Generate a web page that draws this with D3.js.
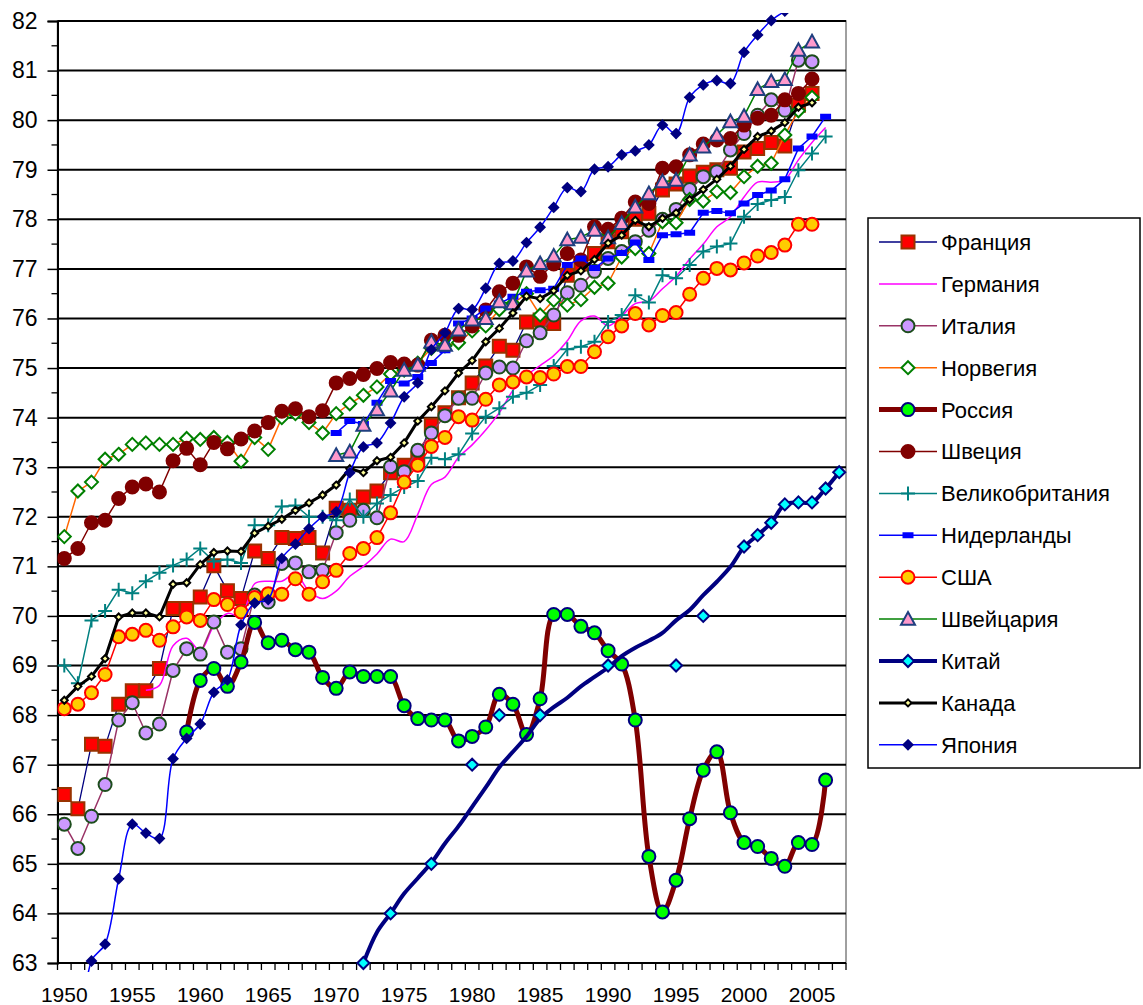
<!DOCTYPE html>
<html>
<head>
<meta charset="utf-8">
<script src="https://cdn.jsdelivr.net/npm/d3@7"></script>
<style>
  body { margin: 0; background: #fff; }
  svg { display: block; }
  text { font-family: Arial, "Liberation Sans", sans-serif; fill: #000; }
</style>
</head>
<body>
<div id="chart"></div>
<script>
// years on the category axis
const firstYear = 1950;
const lastYear = 2007;
const xTickYears = [1950, 1955, 1960, 1965, 1970, 1975, 1980, 1985, 1990, 1995, 2000, 2005];
const yTickValues = [63, 64, 65, 66, 67, 68, 69, 70, 71, 72, 73, 74, 75, 76, 77, 78, 79, 80, 81, 82];

// life expectancy, each series starts at its own year
const franceStart = 1950;
const france = [66.40, 66.11, 67.41, 67.37, 68.22, 68.49, 68.49, 68.94, 70.15, 70.15,
  70.38, 71.01, 70.51, 70.35, 71.31, 71.16, 71.58, 71.56, 71.58, 71.27,
  72.17, 72.13, 72.40, 72.52, 72.89, 73.04, 73.18, 73.85, 74.10, 74.40,
  74.70, 75.04, 75.44, 75.36, 75.93, 75.97, 75.90, 76.87, 77.10, 77.31,
  77.55, 77.75, 78.00, 78.12, 78.59, 78.71, 78.87, 78.95, 79.00, 79.03,
  79.36, 79.43, 79.55, 79.48, 80.30, 80.54];

const germanyStart = 1956;
const germany = [68.50, 68.60, 69.40, 69.55,
  69.30, 69.80, 70.05, 70.00, 70.65, 70.70, 70.70, 70.85, 70.50, 70.35,
  70.50, 70.80, 71.00, 71.25, 71.55, 71.50, 72.05, 72.65, 72.80, 73.20,
  73.45, 73.75, 74.10, 74.55, 74.85, 75.05, 75.25, 75.55, 75.95, 76.05,
  75.85, 76.05, 76.30, 76.35, 76.60, 76.85, 77.20, 77.50, 77.85, 78.05,
  78.45, 78.75, 78.75, 78.80, 79.20, 79.55, 79.85];

const italyStart = 1950;
const italy = [65.80, 65.31, 65.96, 66.60, 67.90, 68.25, 67.64, 67.82, 68.90, 69.34,
  69.23, 69.88, 69.27, 69.34, 70.42, 70.28, 71.06, 71.07, 70.89, 70.92,
  71.68, 71.93, 72.13, 71.98, 73.01, 72.91, 73.34, 73.69, 74.04, 74.39,
  74.39, 74.90, 75.02, 75.00, 75.55, 75.71, 76.07, 76.52, 76.67, 76.95,
  77.21, 77.35, 77.55, 77.78, 78.00, 78.20, 78.60, 78.86, 78.96, 79.40,
  79.73, 80.10, 80.41, 80.20, 81.21, 81.18];

const norwayStart = 1950;
const norway = [71.60, 72.52, 72.70, 73.16, 73.26, 73.46, 73.49, 73.46, 73.46, 73.58,
  73.56, 73.60, 73.50, 73.12, 73.60, 73.36, 74.00, 74.08, 73.90, 73.69,
  74.08, 74.28, 74.45, 74.62, 74.88, 74.96, 75.10, 75.40, 75.45, 75.51,
  75.75, 75.85, 76.18, 76.30, 76.50, 76.07, 76.37, 76.27, 76.38, 76.63,
  76.71, 77.24, 77.41, 77.31, 77.95, 77.93, 78.40, 78.37, 78.56, 78.54,
  78.86, 79.07, 79.13, 79.70, 80.19, 80.46];

const russiaStart = 1959;
const russia = [67.66,
  68.70, 68.94, 68.58, 69.07, 69.87, 69.46, 69.51, 69.32, 69.27, 68.76,
  68.54, 68.87, 68.78, 68.78, 68.78, 68.19, 67.93, 67.90, 67.90, 67.48,
  67.57, 67.76, 68.42, 68.22, 67.61, 68.33, 70.03, 70.03, 69.79, 69.66,
  69.30, 69.03, 67.90, 65.15, 64.03, 64.67, 65.91, 66.89, 67.26, 66.03,
  65.43, 65.35, 65.11, 64.95, 65.43, 65.39, 66.69];

const swedenStart = 1950;
const sweden = [71.16, 71.36, 71.88, 71.93, 72.37, 72.60, 72.66, 72.50, 73.13, 73.38,
  73.05, 73.50, 73.37, 73.57, 73.73, 73.90, 74.13, 74.18, 74.02, 74.14,
  74.70, 74.79, 74.87, 74.99, 75.11, 75.08, 75.06, 75.56, 75.66, 75.66,
  75.85, 76.17, 76.54, 76.71, 77.04, 76.85, 77.10, 77.31, 77.18, 77.85,
  77.80, 78.02, 78.35, 78.32, 79.03, 79.06, 79.30, 79.52, 79.60, 79.63,
  79.90, 80.04, 80.10, 80.41, 80.54, 80.83];

const ukStart = 1950;
const uk = [69.00, 68.64, 69.91, 70.10, 70.53, 70.46, 70.70, 70.87, 71.02, 71.14,
  71.36, 71.10, 71.14, 71.07, 71.83, 71.83, 72.21, 72.23, 72.00, 72.00,
  71.93, 72.35, 72.00, 72.27, 72.44, 72.60, 72.72, 73.19, 73.16, 73.26,
  73.68, 74.02, 74.19, 74.42, 74.50, 74.66, 75.04, 75.38, 75.43, 75.53,
  75.93, 76.07, 76.47, 76.32, 76.87, 76.81, 77.08, 77.35, 77.45, 77.51,
  78.05, 78.31, 78.39, 78.45, 78.99, 79.33, 79.67];

const netherlandsStart = 1970;
const netherlands = [73.69, 73.93, 73.87, 74.30, 74.74, 74.69, 74.82, 75.10, 75.36, 75.90,
  76.00, 76.20, 76.30, 76.44, 76.54, 76.57, 76.60, 77.08, 77.21, 77.02,
  77.21, 77.32, 77.53, 77.18, 77.68, 77.70, 77.73, 78.13, 78.17, 78.12,
  78.32, 78.49, 78.58, 78.81, 79.43, 79.67, 80.07];

const usaStart = 1950;
const usa = [68.13, 68.22, 68.45, 68.82, 69.58, 69.63, 69.71, 69.51, 69.78, 69.98,
  69.91, 70.33, 70.23, 70.08, 70.37, 70.45, 70.44, 70.75, 70.44, 70.69,
  70.92, 71.26, 71.36, 71.58, 72.08, 72.70, 73.04, 73.42, 73.60, 74.02,
  73.95, 74.37, 74.66, 74.72, 74.82, 74.81, 74.88, 75.03, 75.03, 75.33,
  75.63, 75.85, 76.10, 75.87, 76.06, 76.12, 76.49, 76.81, 77.01, 76.98,
  77.12, 77.26, 77.33, 77.48, 77.90, 77.90];

const switzerlandStart = 1970;
const switzerland = [73.24, 73.31, 73.85, 74.16, 74.54, 74.96, 75.06, 75.53, 75.46, 75.77,
  75.97, 76.00, 76.34, 76.30, 76.96, 77.11, 77.26, 77.59, 77.64, 77.78,
  77.63, 77.92, 78.25, 78.52, 78.76, 78.79, 79.30, 79.46, 79.70, 79.97,
  80.08, 80.62, 80.78, 80.82, 81.41, 81.58];

// China: smoothed line and separate marker points
const chinaLineStart = 1972;
const chinaLine = [63.00, 63.62, 64.00, 64.40, 64.71, 65.02, 65.41, 65.76,
  66.15, 66.54, 66.95, 67.26, 67.57, 67.93, 68.16, 68.35, 68.58, 68.77,
  68.96, 69.19, 69.36, 69.50, 69.66, 69.91, 70.12, 70.42, 70.69, 70.99,
  71.39, 71.63, 71.88, 72.25, 72.29, 72.29, 72.57, 72.90];
const chinaPointYears = [1972, 1974, 1977, 1980, 1982, 1985, 1990, 1995, 1997, 2000, 2001, 2002, 2003, 2004, 2005, 2006, 2007];
const chinaPointValues = [63.0, 64.0, 65.0, 67.0, 68.0, 68.0, 69.0, 69.0, 70.0, 71.40, 71.63, 71.88, 72.25, 72.29, 72.29, 72.57, 72.90];

const canadaStart = 1950;
const canada = [68.30, 68.58, 68.78, 69.14, 69.98, 70.06, 70.06, 69.98, 70.64, 70.67,
  71.04, 71.28, 71.31, 71.30, 71.67, 71.81, 71.95, 72.13, 72.28, 72.44,
  72.64, 72.97, 72.89, 73.13, 73.20, 73.49, 73.93, 74.22, 74.54, 74.90,
  75.15, 75.53, 75.80, 76.11, 76.45, 76.40, 76.56, 76.87, 76.96, 77.19,
  77.52, 77.68, 77.98, 77.85, 78.02, 78.13, 78.40, 78.60, 78.81, 79.07,
  79.41, 79.67, 79.78, 79.95, 80.26, 80.35];

const japanStart = 1950;
const japan = [59.20, 60.50, 63.04, 63.38, 64.70, 65.80, 65.62, 65.51, 67.12, 67.53,
  67.82, 68.46, 68.71, 69.82, 70.26, 70.33, 71.16, 71.45, 71.76, 72.00,
  72.10, 72.89, 73.41, 73.49, 73.89, 74.42, 74.70, 75.37, 75.71, 76.20,
  76.18, 76.61, 77.11, 77.16, 77.53, 77.84, 78.24, 78.64, 78.56, 79.01,
  79.06, 79.30, 79.38, 79.50, 79.90, 79.73, 80.46, 80.71, 80.80, 80.74,
  81.37, 81.72, 82.01, 82.20, 82.40, 82.30];

function toPoints(start, values) {
  return values.map((v, i) => ({ year: start + i, v: v }));
}

// series in legend / drawing order
const series = [
  { name: "Франция", pts: toPoints(franceStart, france), line: "#000080", lw: 1.3, marker: "square", fill: "#ff0000", stroke: "#993300", size: 13 },
  { name: "Германия", pts: toPoints(germanyStart, germany), line: "#ff00ff", lw: 1.5, marker: null, smooth: true },
  { name: "Италия", pts: toPoints(italyStart, italy), line: "#993366", lw: 1.5, marker: "circle", fill: "#cc99ff", stroke: "#1d4d1d", size: 13 },
  { name: "Норвегия", pts: toPoints(norwayStart, norway), line: "#ff6600", lw: 1.5, marker: "diamond", fill: "#ffffff", stroke: "#008000", size: 13 },
  { name: "Россия", pts: toPoints(russiaStart, russia), line: "#800000", lw: 5, marker: "circle", fill: "#00ff00", stroke: "#000080", size: 13, smooth: true },
  { name: "Швеция", pts: toPoints(swedenStart, sweden), line: "#800000", lw: 1.5, marker: "circle", fill: "#800000", stroke: "#800000", size: 13 },
  { name: "Великобритания", pts: toPoints(ukStart, uk), line: "#008080", lw: 1.5, marker: "plus", fill: "none", stroke: "#008080", size: 14 },
  { name: "Нидерланды", pts: toPoints(netherlandsStart, netherlands), line: "#0000ff", lw: 1.5, marker: "dash", fill: "#0000ff", stroke: "#0000ff", size: 9 },
  { name: "США", pts: toPoints(usaStart, usa), line: "#ff0000", lw: 1.5, marker: "circle", fill: "#ffcc00", stroke: "#ff0000", size: 13 },
  { name: "Швейцария", pts: toPoints(switzerlandStart, switzerland), line: "#008000", lw: 1.5, marker: "triangle", fill: "#ff99cc", stroke: "#1f3f7f", size: 14 },
  { name: "Китай", pts: toPoints(chinaLineStart, chinaLine), line: "#000080", lw: 4, marker: "diamond", fill: "#00ffff", stroke: "#000080", size: 12, smooth: true,
    markerPts: chinaPointYears.map((yr, i) => ({ year: yr, v: chinaPointValues[i] })) },
  { name: "Канада", pts: toPoints(canadaStart, canada), line: "#000000", lw: 3, marker: "diamond", fill: "#ffff99", stroke: "#000000", size: 7 },
  { name: "Япония", pts: toPoints(japanStart, japan), line: "#0000ff", lw: 1.5, marker: "diamond", fill: "#000080", stroke: "#000080", size: 9, smooth: true }
];

const W = 1143, H = 1005;
const plot = { left: 57.5, right: 846, top: 21, bottom: 963 };

const svg = d3.select("#chart").append("svg")
  .attr("width", W)
  .attr("height", H);

svg.append("rect").attr("width", W).attr("height", H).attr("fill", "#fff");

const years = d3.range(firstYear, lastYear + 1);
const x = d3.scaleBand().domain(years).range([plot.left, plot.right]).padding(0);
const xc = yr => x(yr) + x.bandwidth() / 2;
const y = d3.scaleLinear().domain([63, 82]).range([plot.bottom, plot.top]);

// plot border (grey)
svg.append("rect")
  .attr("x", plot.left).attr("y", plot.top)
  .attr("width", plot.right - plot.left).attr("height", plot.bottom - plot.top)
  .attr("fill", "none").attr("stroke", "#808080").attr("stroke-width", 1.5);

// horizontal gridlines
svg.append("g")
  .selectAll("line")
  .data(yTickValues.filter(v => v > 63))
  .join("line")
  .attr("x1", plot.left).attr("x2", plot.right)
  .attr("y1", d => y(d)).attr("y2", d => y(d))
  .attr("stroke", "#000").attr("stroke-width", 2);

// minor ticks on the value axis (half units)
svg.append("g")
  .selectAll("line")
  .data(yTickValues.slice(0, -1))
  .join("line")
  .attr("x1", plot.left - 6).attr("x2", plot.left)
  .attr("y1", d => y(d + 0.5)).attr("y2", d => y(d + 0.5))
  .attr("stroke", "#000").attr("stroke-width", 1.3);

// y axis
const yAxis = svg.append("g")
  .attr("transform", `translate(${plot.left},0)`)
  .call(d3.axisLeft(y).tickValues(yTickValues).tickSize(10).tickFormat(d3.format("d")).tickPadding(10));
yAxis.select(".domain").attr("stroke", "#000").attr("stroke-width", 2);
yAxis.selectAll(".tick line").attr("stroke", "#000").attr("stroke-width", 1.5);
yAxis.selectAll(".tick text").style("font-size", "23px").style("font-family", "Arial, 'Liberation Sans', sans-serif");

// x axis: category tick marks between years, labels every 5 years
const xAxis = svg.append("g")
  .attr("transform", `translate(0,${plot.bottom})`)
  .call(d3.axisBottom(x).tickValues(xTickYears).tickSize(0).tickPadding(24));
xAxis.select(".domain").remove();
xAxis.selectAll(".tick text").style("font-size", "21px").style("font-family", "Arial, 'Liberation Sans', sans-serif");

svg.append("line")
  .attr("x1", plot.left).attr("x2", plot.right)
  .attr("y1", plot.bottom).attr("y2", plot.bottom)
  .attr("stroke", "#000").attr("stroke-width", 2);

svg.append("g")
  .selectAll("line")
  .data(years.concat([lastYear + 1]))
  .join("line")
  .attr("x1", d => d <= lastYear ? x(d) : plot.right)
  .attr("x2", d => d <= lastYear ? x(d) : plot.right)
  .attr("y1", plot.bottom).attr("y2", plot.bottom + 7)
  .attr("stroke", "#000").attr("stroke-width", 1.3);

// marker shapes
function markerPath(type, s) {
  const h = s / 2;
  switch (type) {
    case "square": return `M${-h},${-h}H${h}V${h}H${-h}Z`;
    case "diamond": return `M0,${-h}L${h},0L0,${h}L${-h},0Z`;
    case "triangle": return `M0,${-h}L${h},${h * 0.8}L${-h},${h * 0.8}Z`;
    case "plus": return `M${-h},0H${h}M0,${-h}V${h}`;
    case "dash": return `M${-h},-2H${h}V2H${-h}Z`;
    default: return d3.symbol(d3.symbolCircle, Math.PI * h * h)();
  }
}

function drawMarker(g, s, px, py) {
  if (!s.marker) return;
  g.append("path")
    .attr("d", markerPath(s.marker, s.size))
    .attr("transform", `translate(${px},${py})`)
    .attr("fill", s.fill)
    .attr("stroke", s.stroke)
    .attr("stroke-width", 2);
}

svg.append("defs").append("clipPath").attr("id", "clip")
  .append("rect").attr("x", plot.left).attr("y", 13)
  .attr("width", plot.right - plot.left + 8).attr("height", 972 - 13);

const dataG = svg.append("g").attr("clip-path", "url(#clip)");

series.forEach(s => {
  const g = dataG.append("g");
  const line = d3.line()
    .x(d => xc(d.year))
    .y(d => y(d.v))
    .curve(s.smooth ? d3.curveCatmullRom.alpha(0.5) : d3.curveLinear);
  g.append("path")
    .datum(s.pts)
    .attr("d", line)
    .attr("fill", "none")
    .attr("stroke", s.line)
    .attr("stroke-width", s.lw)
    .attr("stroke-linejoin", "round");
  (s.markerPts || s.pts).forEach(d => drawMarker(g, s, xc(d.year), y(d.v)));
});

// legend
const legend = svg.append("g");
legend.append("rect")
  .attr("x", 868).attr("y", 218).attr("width", 272).attr("height", 550)
  .attr("fill", "#fff").attr("stroke", "#000").attr("stroke-width", 1.5);

series.forEach((s, i) => {
  const ly = 242 + i * 41.9;
  const g = legend.append("g");
  g.append("line")
    .attr("x1", 879).attr("x2", 937)
    .attr("y1", ly).attr("y2", ly)
    .attr("stroke", s.line).attr("stroke-width", s.lw);
  drawMarker(g, s, 908, ly);
  g.append("text")
    .attr("x", 941).attr("y", ly)
    .attr("dy", "0.36em")
    .style("font-size", "22px")
    .text(s.name);
});
</script>
</body>
</html>
